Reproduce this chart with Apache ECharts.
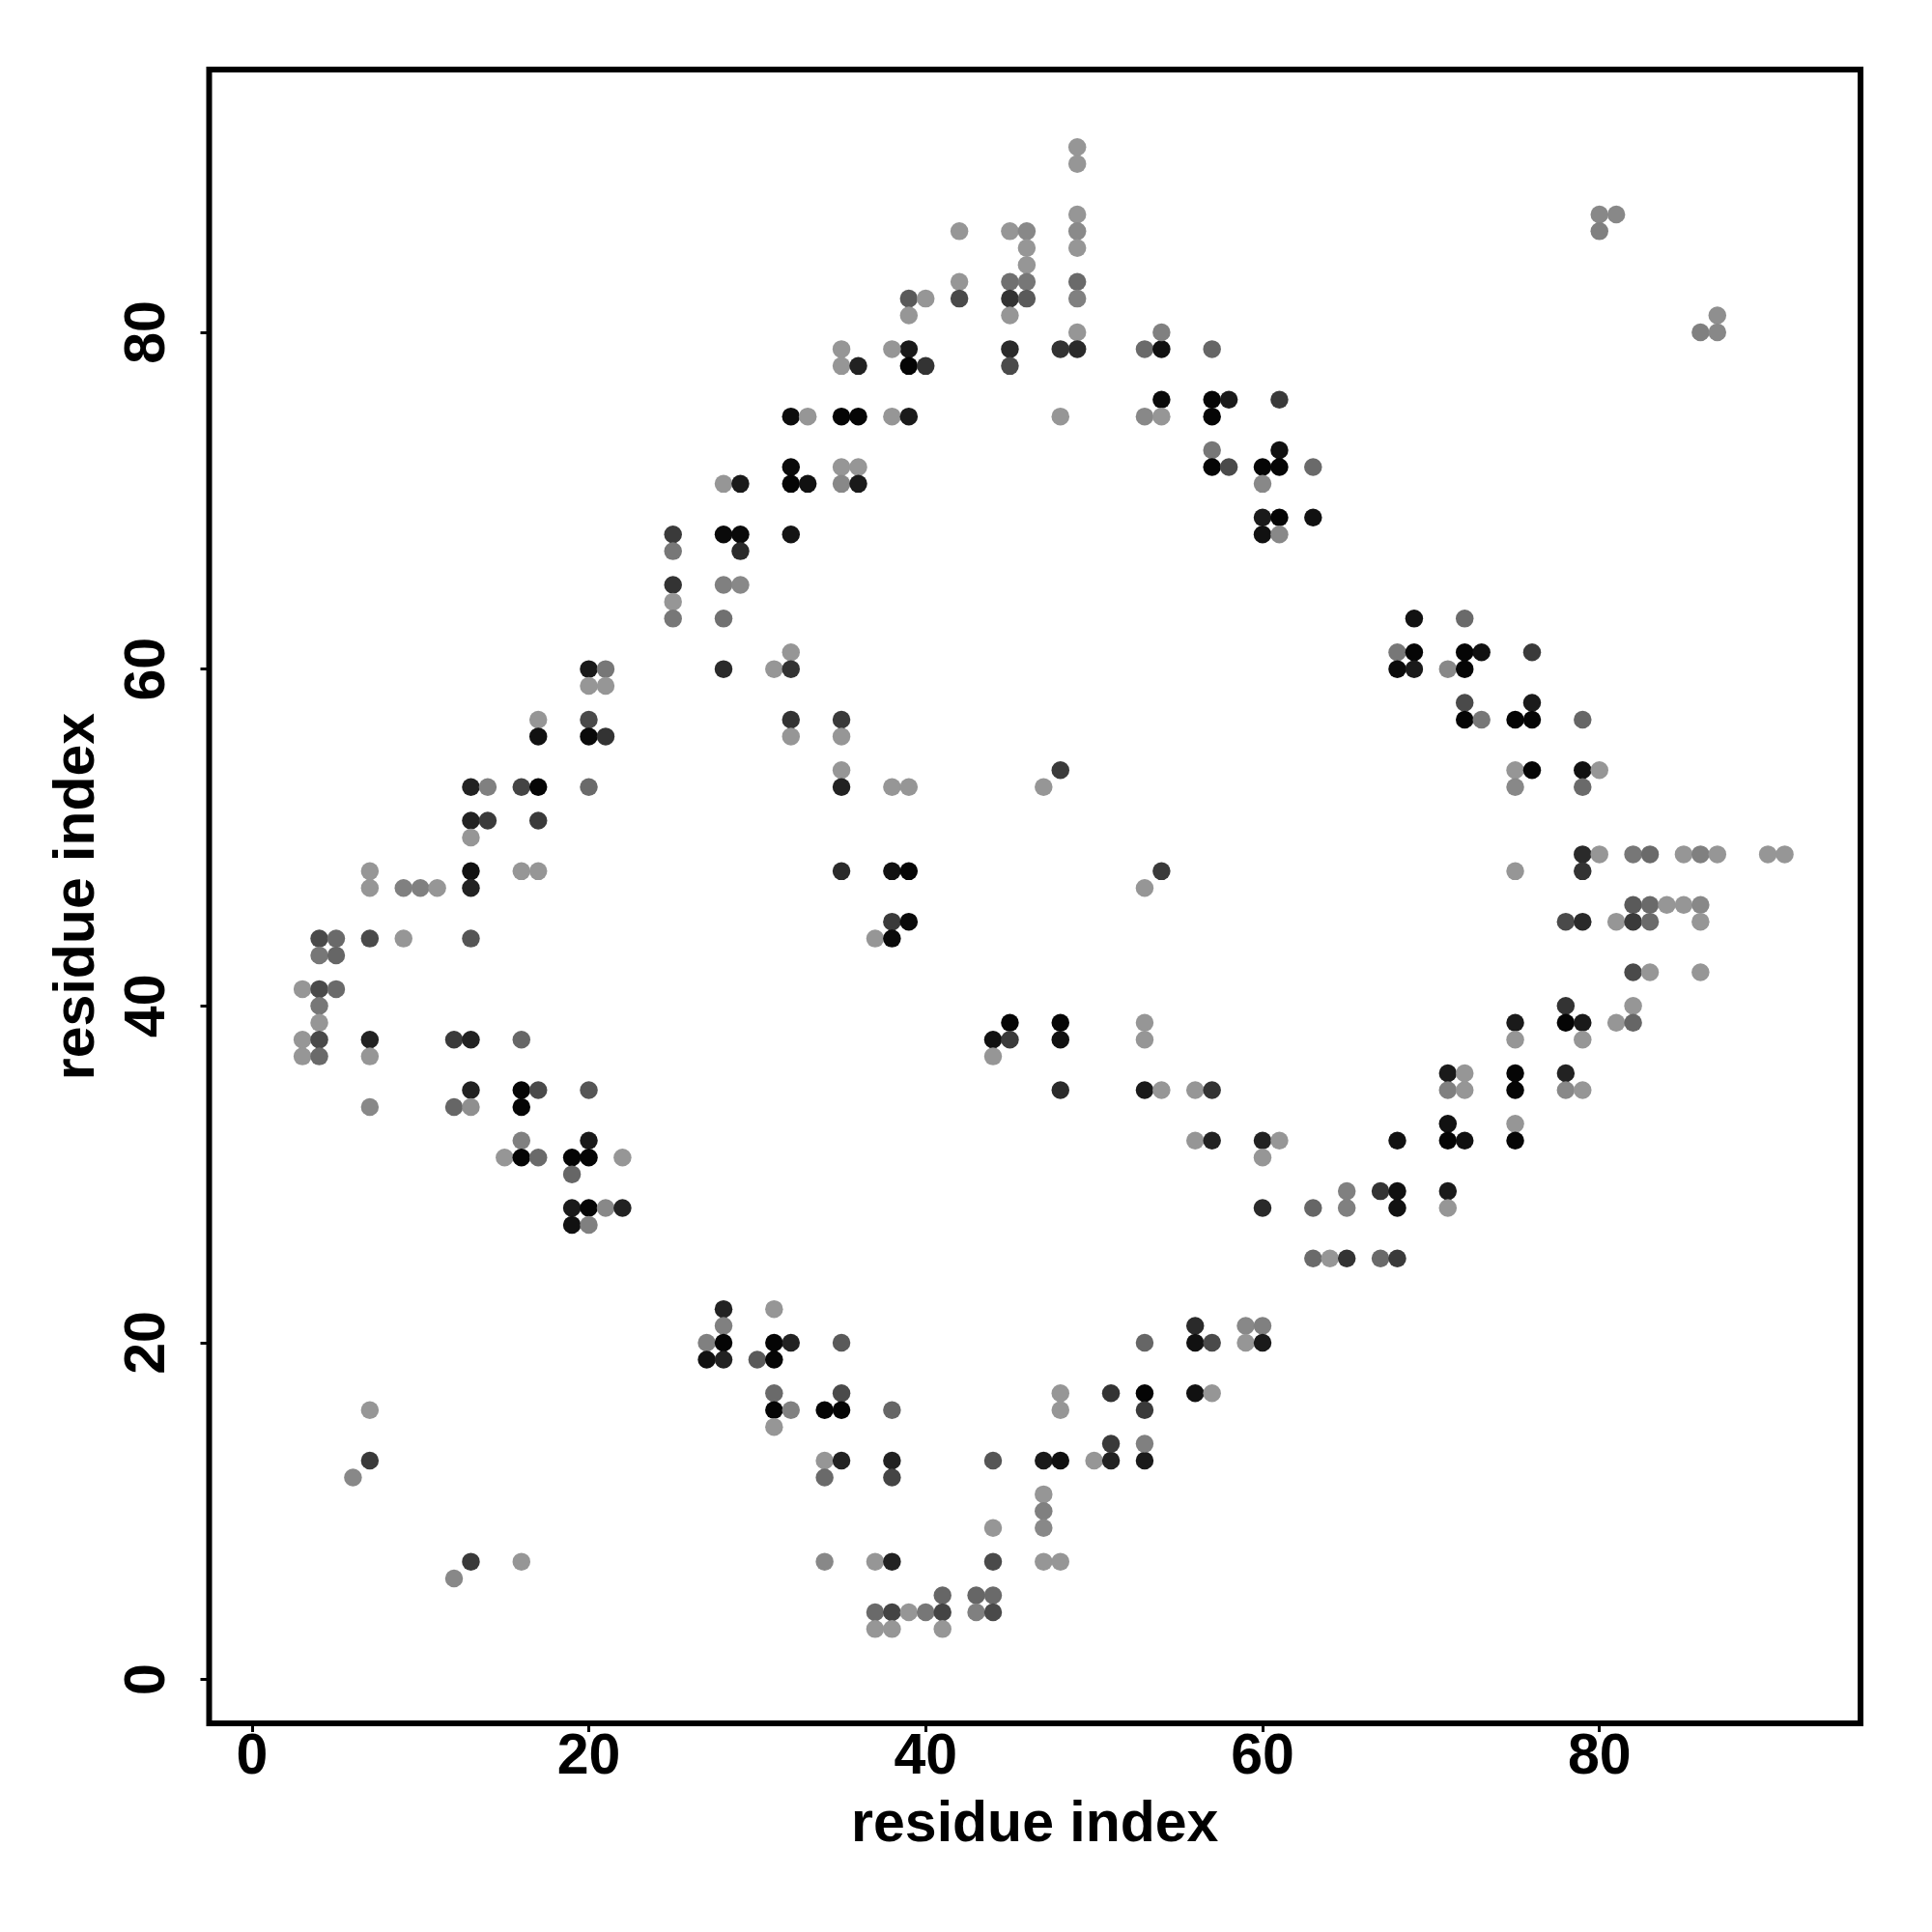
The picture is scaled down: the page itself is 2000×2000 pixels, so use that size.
<!DOCTYPE html>
<html>
<head>
<meta charset="utf-8">
<script src="https://cdn.jsdelivr.net/npm/echarts@6/dist/echarts.min.js"></script>
<style>html,body{margin:0;padding:0;background:#fff;}#chart{width:2000px;height:2000px;}</style>
</head>
<body>
<div id="chart"></div>
<script>
// contacts as [residue i, residue j, grey level 0-255]
const contactsUpperLeft = [[32,75,12],[32,72,10],[32,71,5],[28,71,150],[29,71,26],[32,68,20],[25,68,58],[25,67,119],[28,68,10],[29,68,10],[29,67,42],[25,65,51],[25,64,150],[25,63,119],[28,65,128],[29,65,136],[28,63,112]];
const contactsUpperMid = [[49,91,150],[49,90,150],[49,87,150],[49,86,138],[49,85,150],[49,83,106],[49,82,128],[49,80,150],[49,79,42],[48,79,51],[48,75,150],[42,86,150],[42,83,150],[42,82,74],[39,82,90],[40,82,150],[39,81,150],[39,79,26],[38,79,150],[39,78,5],[40,78,51],[45,86,150],[46,86,136],[46,85,150],[46,84,150],[45,83,112],[46,83,119],[45,82,51],[46,82,90],[45,81,150],[45,79,42],[45,78,74],[35,79,150],[35,78,150],[36,78,34],[33,75,150],[35,75,5],[36,75,5],[38,75,150],[39,75,26],[33,71,17],[35,72,150],[36,72,150],[35,71,136],[36,71,26],[53,79,106],[54,79,17],[54,80,128],[54,76,10],[53,75,136],[54,75,150],[57,79,102],[57,76,5],[58,76,26],[57,75,5],[61,76,58],[57,73,119],[57,72,5],[58,72,74],[61,73,17],[60,72,5],[61,72,5],[60,71,136],[60,69,26],[61,69,5],[60,68,17],[61,68,136]];
const contactsUpperRight = [[80,87,136],[81,87,136],[80,86,128],[87,81,143],[86,80,128],[87,80,136],[63,72,106],[63,69,17],[69,63,17],[72,63,106]];
const contactsMidLeft = [[32,61,150],[31,60,150],[32,60,51],[28,60,42],[20,60,26],[21,60,119],[20,59,150],[21,59,150],[17,57,150],[17,56,17],[20,57,74],[20,56,10],[21,56,51],[32,57,51],[32,56,150],[13,53,34],[14,53,128],[16,53,68],[17,53,5],[20,53,106],[13,51,34],[14,51,58],[17,51,58],[13,50,150],[7,48,150],[7,47,150],[9,47,128],[10,47,128],[11,47,150],[13,48,17],[13,47,34],[16,48,150],[17,48,150],[4,44,74],[5,44,106],[7,44,74],[9,44,150],[13,44,85],[4,43,119],[5,43,102],[3,41,150],[4,41,74],[5,41,106],[4,40,119],[4,39,150],[3,38,150],[4,38,74],[3,37,150],[4,37,106],[7,38,34],[7,37,150],[12,38,58],[13,38,34],[16,38,102],[13,35,34],[16,35,5],[17,35,74],[20,35,85],[7,34,136],[12,34,102],[13,34,143],[16,34,5],[16,32,128],[20,32,26]];
const contactsCenter = [[35,57,58],[35,56,150],[35,54,150],[35,53,34],[38,53,150],[39,53,150],[48,54,58],[47,53,150],[35,48,42],[38,48,17],[39,48,5],[38,45,58],[39,45,10],[37,44,150],[38,44,10],[54,48,58],[53,47,150],[45,39,5],[44,38,17],[45,38,58],[44,37,150],[48,39,5],[48,38,17],[53,39,150],[53,38,150],[48,35,42],[53,35,26],[54,35,150],[56,35,150],[57,35,51],[56,32,150],[57,32,34],[60,32,34],[61,32,150]];
const contactsMidRight = [[68,61,119],[69,61,5],[68,60,10],[69,60,26],[72,61,5],[73,61,17],[71,60,136],[72,60,5],[76,61,58],[72,58,74],[72,57,5],[73,57,119],[75,57,5],[76,58,26],[76,57,5],[79,57,102],[75,54,150],[76,54,5],[75,53,136],[79,54,17],[80,54,150],[79,53,106],[79,49,42],[80,49,150],[82,49,119],[83,49,106],[85,49,150],[86,49,128],[87,49,150],[90,49,150],[91,49,150],[75,48,150],[79,48,51],[82,46,90],[83,46,106],[84,46,150],[85,46,150],[86,46,136],[78,45,74],[79,45,42],[81,45,150],[82,45,58],[83,45,106],[86,45,150],[82,42,74],[83,42,150],[86,42,150],[78,40,51],[82,40,150],[75,39,26],[78,39,5],[79,39,26],[81,39,150],[82,39,102],[75,38,150],[79,38,150],[71,36,26],[72,36,150],[71,35,128],[72,35,150],[75,36,5],[75,35,5],[78,36,34],[78,35,136],[79,35,150],[71,33,17],[75,33,150],[68,32,17],[71,32,5],[72,32,17],[75,32,5]];
const contactsLowerLeft = [[15,31,150],[16,31,5],[17,31,106],[19,31,5],[20,31,5],[22,31,150],[19,30,102],[19,28,26],[20,28,5],[21,28,136],[22,28,34],[19,27,17],[20,27,128],[28,22,34],[28,21,128],[27,20,128],[28,20,5],[27,19,17],[28,19,34],[31,22,150],[31,20,5],[32,20,34],[30,19,90],[31,19,5],[31,17,106],[31,16,5],[32,16,128],[31,15,150],[7,16,150],[7,13,58],[6,12,136],[13,7,58],[12,6,136],[16,7,150]];
const contactsLowerMid = [[60,31,150],[60,28,42],[35,20,90],[35,17,74],[34,16,5],[35,16,5],[38,16,102],[34,13,150],[35,13,34],[34,12,106],[38,13,34],[38,12,68],[44,13,85],[47,13,26],[48,13,17],[50,13,150],[51,13,34],[51,14,58],[53,13,26],[53,14,128],[48,17,150],[48,16,150],[51,17,51],[53,17,5],[53,16,58],[53,20,102],[56,21,42],[56,20,17],[57,20,74],[56,17,17],[57,17,150],[59,21,136],[60,21,128],[59,20,150],[60,20,26],[47,11,150],[47,10,128],[47,9,136],[44,9,150],[34,7,136],[37,7,150],[38,7,34],[44,7,74],[47,7,150],[48,7,150],[41,5,102],[43,5,102],[44,5,106],[37,4,106],[38,4,68],[39,4,150],[40,4,119],[41,4,68],[43,4,128],[44,4,74],[37,3,150],[38,3,150],[41,3,150]];
const contactsLowerRight = [[65,29,128],[65,28,128],[63,28,102],[67,29,51],[68,29,17],[68,28,17],[71,29,26],[71,28,150],[63,25,106],[64,25,150],[65,25,51],[67,25,106],[68,25,58]];
const tickValues = [0, 20, 40, 60, 80];
const axisTitle = 'residue index';

const allContacts = [].concat(contactsUpperLeft, contactsUpperMid, contactsUpperRight, contactsMidLeft, contactsCenter, contactsMidRight, contactsLowerLeft, contactsLowerMid, contactsLowerRight);
const seriesData = allContacts.map(c => ({
  value: [c[0], c[1]],
  itemStyle: { color: 'rgb(' + c[2] + ',' + c[2] + ',' + c[2] + ')', opacity: 1 }
}));

const FONT = '"Liberation Sans", Arial, Helvetica, sans-serif';
const chart = echarts.init(document.getElementById('chart'), null, { renderer: 'canvas' });
chart.setOption({
  animation: false,
  backgroundColor: '#ffffff',
  grid: { left: 216.5, top: 72, width: 1709.5, height: 1712, show: true, borderColor: '#000', borderWidth: 6, backgroundColor: 'transparent', containLabel: false },
  xAxis: {
    type: 'value', min: -2.54, max: 95.5,
    axisLine: { show: false, onZero: false }, splitLine: { show: false },
    axisTick: { show: true, length: 9, lineStyle: { color: '#000', width: 3 }, customValues: tickValues },
    axisLabel: { customValues: tickValues, fontSize: 59, fontWeight: 'bold', color: '#000', fontFamily: FONT, margin: 6 },
    name: axisTitle, nameLocation: 'middle', nameGap: 76,
    nameTextStyle: { fontSize: 59, fontWeight: 'bold', color: '#000', fontFamily: FONT }
  },
  yAxis: {
    type: 'value', min: -2.6, max: 95.6,
    axisLine: { show: false, onZero: false }, splitLine: { show: false },
    axisTick: { show: true, length: 9, lineStyle: { color: '#000', width: 3 }, customValues: tickValues },
    axisLabel: { customValues: tickValues, rotate: 90, fontSize: 59, fontWeight: 'bold', color: '#000', fontFamily: FONT, margin: 33 },
    name: axisTitle, nameLocation: 'middle', nameGap: 106, nameRotate: 90,
    nameTextStyle: { fontSize: 59, fontWeight: 'bold', color: '#000', fontFamily: FONT }
  },
  series: [{
    type: 'scatter', symbol: 'circle', symbolSize: 18.5,
    itemStyle: { opacity: 1 },
    data: seriesData
  }]
});
</script>
</body>
</html>
